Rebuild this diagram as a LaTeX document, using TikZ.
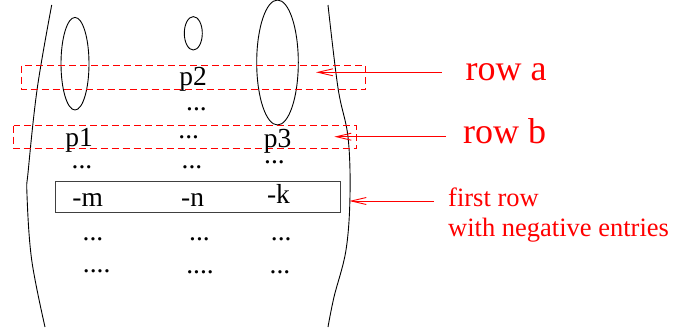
\documentclass[tikz,border=0pt]{standalone}
\usepackage{fontspec}
\setmainfont{Liberation Serif}
\usetikzlibrary{arrows.meta}
\tikzset{
  curveline/.style={black, line width=0.9pt},
  oval/.style={black, line width=0.9pt},
  rowbox/.style={red, line width=1.3pt, dash pattern=on 7pt off 4pt},
  negbox/.style={black!75, line width=1pt},
  arr/.style={red, line width=0.9pt, -{Straight Barb[length=15pt,width=7pt,line width=0.9pt]}},
  txt/.style={inner sep=0pt, anchor=base, font=\fontsize{27.5}{30}\selectfont},
  bigred/.style={inner sep=0pt, anchor=base west, text=red, font=\fontsize{36}{40}\selectfont},
  smallred/.style={inner sep=0pt, anchor=base west, text=red, font=\fontsize{26.5}{30}\selectfont}
}
\begin{document}
\begin{tikzpicture}[x=1pt,y=-1pt]
\useasboundingbox (0,0) rectangle (674,327);
% side curves
\draw[curveline] plot[smooth, tension=0.6] coordinates {(51.7,5) (37.3,88) (28.3,170) (27,195) (31.7,260) (45,327)};
\draw[curveline] plot[smooth, tension=0.6] coordinates {(328,5) (338,88) (348,137) (350,195) (346,250) (334,297) (328,327)};
% ellipses
\draw[oval] (75,63.7) ellipse [x radius=14, y radius=46.3];
\draw[oval] (193.3,33.3) ellipse [x radius=9, y radius=16.7];
\draw[oval] (277.5,62.5) ellipse [x radius=20.8, y radius=62.5];
% row boxes
\draw[rowbox] (21.5,65.5) rectangle (365.5,89.5);
\draw[rowbox] (13.5,125.5) rectangle (356.5,148.5);
\draw[negbox] (55,181.7) rectangle (340,212.7);
% entries
\node[txt] (p2) at (193,85) {p2};
\node[txt] (d1) at (196.5,110) {...};
\node[txt] (p1) at (79,146) {p1};
\node[txt] (d2) at (188.7,138) {...};
\node[txt] (p3) at (277.5,147) {p3};
\node[txt] (d3) at (82,168) {...};
\node[txt] (d4) at (192,168) {...};
\node[txt] (d5) at (274.5,163) {...};
\node[txt] (nm) at (87.7,206.7) {-m};
\node[txt] (nn) at (192.7,206.7) {-n};
\node[txt] (nk) at (278.5,203.3) {-k};
\node[txt] (d6) at (93,240) {...};
\node[txt] (d7) at (199.5,240) {...};
\node[txt] (d8) at (281.3,240) {...};
\node[txt] (d9) at (96.7,272) {....};
\node[txt] (d10) at (200,273.5) {....};
\node[txt] (d11) at (280,273.5) {...};
% labels
\node[bigred] (ra) at (465.5,80) {row a};
\node[bigred] (rb) at (463,143.5) {row b};
\node[smallred] (fr1) at (448,206.7) {first row};
\node[smallred] (fr2) at (448,236.7) {with negative entries};
% arrows
\coordinate (sa) at (441.7,72.3);
\coordinate (ta) at (316,72.3);
\coordinate (sb) at (446,136.7);
\coordinate (tb) at (334.3,136.7);
\coordinate (sf) at (434,201);
\coordinate (tf) at (349.3,201);
\draw[arr] (sa) -- (ta);
\draw[arr] (sb) -- (tb);
\draw[arr] (sf) -- (tf);
\end{tikzpicture}
\end{document}
